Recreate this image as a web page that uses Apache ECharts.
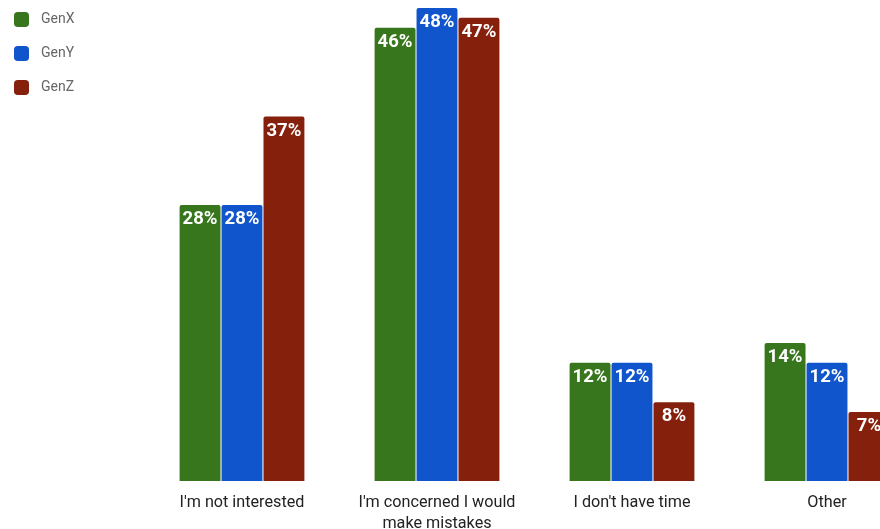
<!DOCTYPE html>
<html>
<head>
<meta charset="utf-8">
<script src="https://cdn.jsdelivr.net/npm/echarts@6/dist/echarts.min.js"></script>
<style>
  html, body { margin: 0; padding: 0; background: #fff; }
  #chart { width: 880px; height: 529px; }
</style>
</head>
<body>
<div id="chart"></div>
<script>
// Reasons for not trying, by generation (percent of respondents)
const categories = ["I'm not interested", "I'm concerned I would\nmake mistakes", "I don't have time", "Other"];
const seriesNames = ["GenX", "GenY", "GenZ"];
const genX = [28, 46, 12, 14];
const genY = [28, 48, 12, 12];
const genZ = [37, 47, 8, 7];
const colors = ["#38761d", "#1155cc", "#85200c"];

const values = [genX, genY, genZ];

const chart = echarts.init(document.getElementById('chart'), null, { renderer: 'canvas' });

chart.setOption({
  animation: false,
  color: colors,
  textStyle: { fontFamily: 'Roboto' },
  legend: {
    orient: 'vertical',
    left: 14,
    top: 12,
    padding: 0,
    itemWidth: 15,
    itemHeight: 15,
    itemGap: 19,
    icon: 'roundRect',
    textStyle: { color: '#666', fontSize: 14, fontFamily: 'Roboto', padding: [0, 0, 0, 7] },
    data: seriesNames
  },
  grid: {
    left: 144.5, width: 780, top: 8, height: 473,
    containLabel: false,
    outerBoundsMode: 'none'
  },
  xAxis: {
    type: 'category',
    data: categories,
    axisLine: { show: false },
    axisTick: { show: false },
    axisLabel: {
      color: '#222',
      fontSize: 16.2,
      fontFamily: 'Roboto',
      margin: 11,
      lineHeight: 21,
      interval: 0
    }
  },
  yAxis: {
    type: 'value',
    min: 0,
    max: 48,
    show: false,
    splitLine: { show: false }
  },
  series: seriesNames.map((name, i) => ({
    name: name,
    type: 'bar',
    data: values[i],
    barGap: '2.5%',
    barCategoryGap: '36%',
    itemStyle: { color: colors[i], borderRadius: [2, 2, 0, 0] },
    label: {
      show: true,
      position: 'insideTop',
      distance: 5,
      formatter: '{c}%',
      color: '#fff',
      fontSize: 18.5,
      fontWeight: 'bold',
      fontFamily: 'Roboto'
    }
  }))
});
</script>
</body>
</html>
